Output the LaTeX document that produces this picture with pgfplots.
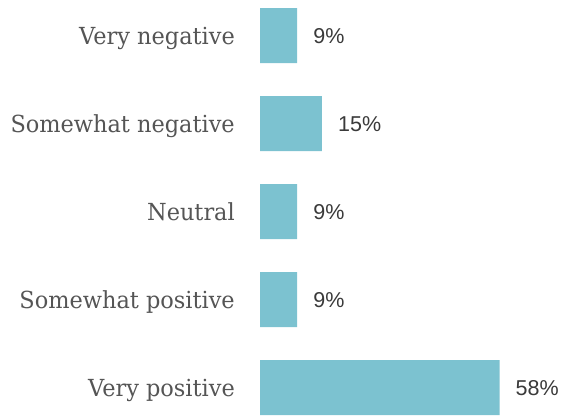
\documentclass[border=0pt]{standalone}
\usepackage{pgfplots}
\pgfplotsset{compat=1.18}
\usepackage{fontspec}
\setmainfont[FakeStretch=0.955]{DejaVu Serif}
\newfontfamily\valfont{Liberation Sans}
\definecolor{barc}{HTML}{7CC2D0}
\definecolor{labc}{HTML}{555555}
\definecolor{valc}{HTML}{3A3A3A}
\begin{document}
\begin{tikzpicture}
\path[use as bounding box] (0,0) rectangle (561bp,416bp);
\begin{axis}[
  at={(260bp,1.9bp)}, anchor=south west,
  scale only axis,
  width=247.8bp, height=404.8bp,
  xmin=0, xmax=60, ymin=-0.3, ymax=4.3,
  xbar, bar width=55bp,
  axis line style={draw=none},
  major tick length=0pt,
  xtick=\empty,
  ytick={0,1,2,3,4},
  yticklabels={Very positive, Somewhat positive, Neutral, Somewhat negative, Very negative},
  yticklabel style={anchor=base east, inner sep=0pt, xshift=-25bp, yshift=-8.7bp,
    font=\fontsize{23.5bp}{27bp}\selectfont, text=labc},
  /pgf/number format/assume math mode=true,
  nodes near coords={\pgfmathprintnumber{\pgfplotspointmeta}\%},
  nodes near coords style={anchor=base west, inner sep=0pt, xshift=16bp, yshift=-8bp,
    font=\valfont\fontsize{21.5bp}{25bp}\selectfont, text=valc},
  point meta=explicit,
  clip=false,
]
\addplot[draw=none, fill=barc] coordinates {
  (58,0) [58]
  (9,1) [9]
  (9,2) [9]
  (15,3) [15]
  (9,4) [9]
};
\end{axis}
\end{tikzpicture}
\end{document}
